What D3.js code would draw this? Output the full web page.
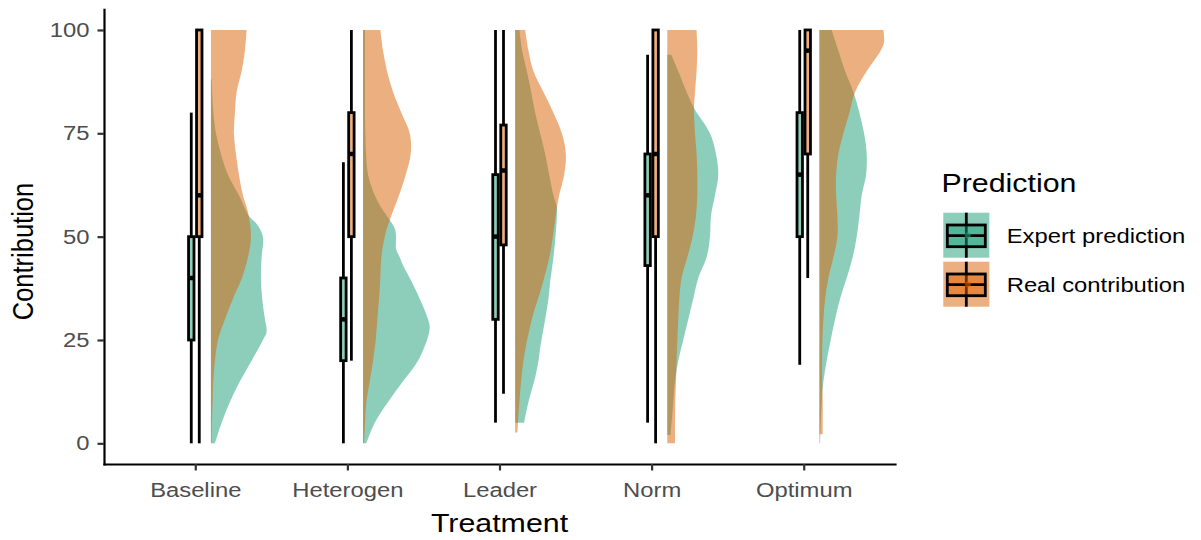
<!DOCTYPE html>
<html>
<head>
<meta charset="utf-8">
<script src="https://cdn.jsdelivr.net/npm/d3@7"></script>
<style>
  body { margin: 0; background: #fff; }
  svg { display: block; font-family: "Liberation Sans", Arial, sans-serif; }
</style>
</head>
<body>
<svg id="chart" width="1201" height="540"></svg>
<script>

// ---- data ----
const treatments = ["Baseline", "Heterogen", "Leader", "Norm", "Optimum"];
const groups = ["Expert prediction", "Real contribution"];
const groupColors = ["#1B9E77", "#D95F02"];

// box stats: [lower whisker, q1, median, q3, upper whisker]
const expertBox = [[0, 25, 40, 50, 80], [0, 20, 30, 40, 68], [5, 30, 50, 65, 100], [5, 43, 60, 70, 94], [19, 50, 65, 80, 100]];
const realBox = [[0, 50, 60, 100, 100], [20, 50, 70, 80, 100], [12, 48, 66, 77, 100], [0, 50, 70, 100, 100], [40, 70, 95, 100, 100]];

// half-violin outlines: [contribution, relative density]
const expertDensity = [
  [[0, 4], [5, 10.7], [10, 19], [15, 29], [20, 40.7], [25, 52], [27, 55.7], [30, 54], [35, 51.3], [40, 50], [45, 50.7], [50, 52], [53, 46], [55, 38], [60, 28], [65, 17], [70, 10], [75, 5], [80, 2.5], [85, 1.2], [88, 0.8]],
  [[0, 3.3], [5, 11.7], [10, 25], [15, 40], [20, 55], [25, 64], [28, 66.7], [30, 65], [35, 56.7], [40, 46.7], [43, 40], [45, 36.7], [47, 33], [50, 33], [52, 31.7], [54, 26.7], [57, 18.3], [60, 11.7], [65, 5], [70, 3], [75, 2.3], [80, 2], [90, 2], [100, 2]],
  [[5, 9], [10, 13.3], [16, 20], [20, 23.3], [23, 25], [30, 30], [35, 33.3], [39, 35], [45, 38.3], [49, 40], [55, 41.7], [57, 41.7], [60, 38.3], [65, 34], [70, 30], [75, 25], [80, 20], [85, 16], [90, 11.7], [95, 7], [100, 4.3]],
  [[2, 3.3], [5, 4.3], [10, 6], [15, 7.7], [20, 11], [25, 16], [30, 21], [35, 26], [40, 31], [45, 39.3], [50, 42.7], [55, 43.7], [60, 47.7], [65, 51], [70, 48.7], [75, 42.7], [81, 27], [85, 19.3], [90, 11], [94, 4]],
  [[0, 0.7], [5, 1.3], [10, 2.3], [15, 4], [20, 7.3], [25, 11.3], [30, 15.7], [35, 20.7], [40, 27.3], [45, 33.3], [50, 37.3], [55, 40], [60, 42.3], [65, 46.7], [70, 47.3], [75, 44.7], [80, 40], [85, 34], [90, 25.7], [95, 19], [100, 12.3]]
];
const realDensity = [
  [[0, 0.7], [5, 1], [10, 1.7], [15, 2.3], [20, 4], [25, 7], [30, 14], [35, 22], [40, 31], [45, 37], [50, 40], [56, 37], [60, 32], [65, 28], [70, 25], [75, 23], [80, 24], [85, 25.7], [90, 30.7], [95, 34], [100, 35.7]],
  [[0, 1], [5, 2], [10, 3.3], [15, 6.7], [20, 10], [25, 12.7], [30, 14.3], [35, 16], [40, 17.3], [45, 18.3], [50, 21.7], [54, 26.7], [60, 36], [65, 42.7], [70, 47.7], [75, 46.7], [80, 38.3], [85, 30], [90, 24], [95, 20], [100, 17.3]],
  [[2.6, 2.3], [10, 4.2], [20, 8.3], [30, 16.7], [38, 26.7], [46, 35], [57, 41.7], [60, 44], [65, 49], [70, 50.7], [75, 46.7], [80, 38.3], [85, 28.3], [90, 18.3], [95, 13.3], [100, 10]],
  [[0, 7.7], [5, 7.7], [10, 8], [15, 8.7], [20, 9.3], [25, 10], [30, 11], [35, 12], [40, 14.3], [45, 20], [50, 25.3], [55, 28.7], [60, 30], [65, 30], [70, 29.3], [75, 27.7], [81, 26.7], [85, 27.7], [90, 29.3], [95, 30], [100, 29.3]],
  [[2.2, 3.3], [5, 3.3], [10, 3.3], [15, 2.7], [20, 2.7], [25, 3], [30, 4], [35, 5.7], [40, 9], [45, 14], [50, 18], [55, 18], [60, 16.7], [65, 16.7], [70, 19], [75, 24], [80, 30], [85, 35.7], [90, 47.3], [95, 61.3], [97, 64.7], [100, 64]]
];

const yTicks = [0, 25, 50, 75, 100];

// ---- layout ----
const TEXT_STRETCH = 1.19;   // reference text is drawn a little wide
const LINE_W = 2.8;
const svg = d3.select("#chart");
const panel = {left: 104, right: 895, top: 9.3, bottom: 464};

const x = d3.scaleLinear().domain([0.4, treatments.length + 0.6]).range([panel.left, panel.right]);
const step = x(2) - x(1);
const y = d3.scaleLinear().domain([-5, 105]).range([panel.bottom, panel.top]);
const dodge = d3.scaleBand().domain(groups).range([-8, 8]);
const widthScale = d3.scaleLinear().domain([0, 70]).range([0, step * 0.46]);
const violinOffset = step * 0.103;

function stretch(sel, tx, ty, rot) {
  sel.attr("transform", `translate(${tx},${ty}) scale(${TEXT_STRETCH},1)` + (rot ? ` rotate(${rot})` : ""));
}

// ---- violins ----
const violins = svg.append("g");
treatments.forEach((t, i) => {
  const base = x(i + 1) + violinOffset;
  const area = d3.area()
    .curve(d3.curveCatmullRom.alpha(0.5))
    .y(d => y(d[0]))
    .x0(base)
    .x1(d => base + widthScale(d[1]));
  [expertDensity[i], realDensity[i]].forEach((dens, g) => {
    violins.append("path")
      .attr("d", area(dens))
      .attr("fill", groupColors[g])
      .attr("fill-opacity", 0.5);
  });
});

// ---- boxplots ----
const boxes = svg.append("g");
treatments.forEach((t, i) => {
  [expertBox[i], realBox[i]].forEach((b, g) => {
    const cx = x(i + 1) + dodge(groups[g]) + dodge.bandwidth() / 2;
    const bw = dodge.bandwidth() * 0.68;
    const gg = boxes.append("g");
    gg.append("line").attr("x1", cx).attr("x2", cx).attr("y1", y(b[0])).attr("y2", y(b[1]))
      .attr("stroke", "#000").attr("stroke-width", LINE_W);
    gg.append("line").attr("x1", cx).attr("x2", cx).attr("y1", y(b[3])).attr("y2", y(b[4]))
      .attr("stroke", "#000").attr("stroke-width", LINE_W);
    gg.append("rect")
      .attr("x", cx - bw / 2).attr("width", bw)
      .attr("y", y(b[3])).attr("height", y(b[1]) - y(b[3]))
      .attr("fill", groupColors[g]).attr("fill-opacity", 0.5)
      .attr("stroke", "#000").attr("stroke-width", LINE_W);
    gg.append("line").attr("x1", cx - bw / 2).attr("x2", cx + bw / 2)
      .attr("y1", y(b[2])).attr("y2", y(b[2]))
      .attr("stroke", "#000").attr("stroke-width", 4.5);
  });
});

// ---- axes ----
const yAxisG = svg.append("g")
  .attr("transform", `translate(${panel.left},0)`)
  .call(d3.axisLeft(y).tickValues(yTicks).tickSize(6.5).tickSizeOuter(0));
const xAxisG = svg.append("g")
  .attr("transform", `translate(0,${panel.bottom})`)
  .call(d3.axisBottom(x).tickValues(d3.range(1, treatments.length + 1))
    .tickFormat(d => treatments[d - 1]).tickSize(6.5).tickSizeOuter(0).tickPadding(12.5));

[yAxisG, xAxisG].forEach(a => {
  a.select(".domain").attr("stroke", "#000").attr("stroke-width", 2.2).attr("stroke-linecap", "square");
  a.selectAll(".tick line").attr("stroke", "#333").attr("stroke-width", 2.2);
  a.selectAll(".tick text")
    .attr("fill", "#4D4D4D")
    .style("font-size", "20px")
    .style("font-family", '"Liberation Sans", Arial, sans-serif');
});
yAxisG.selectAll(".tick text").attr("x", -14.5 / TEXT_STRETCH).attr("transform", `scale(${TEXT_STRETCH},1)`);
xAxisG.selectAll(".tick text").attr("transform", `scale(${TEXT_STRETCH},1)`);

// axis titles
svg.append("text").text("Treatment")
  .attr("text-anchor", "middle").style("font-size", "25.5px")
  .call(stretch, (panel.left + panel.right) / 2, 531.5);
svg.append("text").text("Contribution")
  .attr("text-anchor", "middle").style("font-size", "25.5px")
  .call(stretch, 33, 251.5, -90);

// ---- legend ----
const legend = svg.append("g");
legend.append("text").text("Prediction")
  .style("font-size", "25.5px")
  .call(stretch, 941.5, 191.7);

const keyW = 46, keyH = 45, keyTop = 212.7, keyGap = 4;
groups.forEach((g, k) => {
  const top = keyTop + k * (keyH + keyGap);
  const kx = 943.3, cx = kx + keyW / 2;
  const kg = legend.append("g");
  kg.append("rect").attr("x", kx).attr("y", top).attr("width", keyW).attr("height", keyH)
    .attr("fill", groupColors[k]).attr("fill-opacity", 0.5);
  kg.append("line").attr("x1", cx).attr("x2", cx).attr("y1", top).attr("y2", top + keyH)
    .attr("stroke", "#000").attr("stroke-width", LINE_W);
  kg.append("rect").attr("x", kx + 4).attr("y", top + 12.3).attr("width", keyW - 8).attr("height", 21.7)
    .attr("fill", groupColors[k]).attr("fill-opacity", 0.5)
    .attr("stroke", "#000").attr("stroke-width", LINE_W);
  kg.append("line").attr("x1", kx + 4).attr("x2", kx + keyW - 4)
    .attr("y1", top + 23).attr("y2", top + 23)
    .attr("stroke", "#000").attr("stroke-width", LINE_W);
  kg.append("circle").attr("cx", cx + 1.5).attr("cy", top + 22.5).attr("r", 3)
    .attr("fill", groupColors[k]).attr("fill-opacity", 0.6);
  legend.append("text").text(g)
    .style("font-size", "20px")
    .call(stretch, 1006.7, top + 30.6);
});
</script>
</body>
</html>
